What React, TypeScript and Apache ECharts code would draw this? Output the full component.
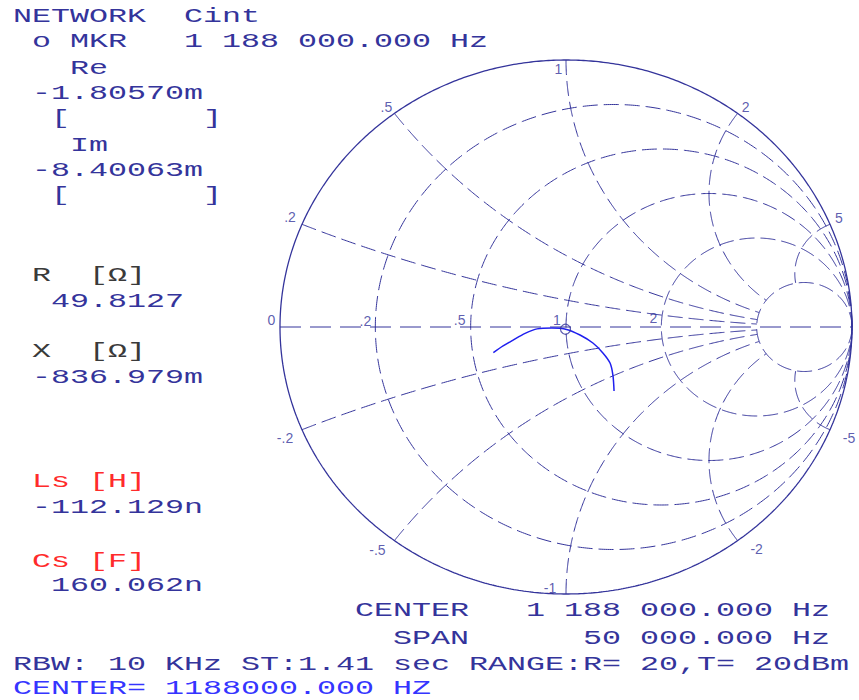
import React, { useEffect, useRef } from 'react';
import * as echarts from 'echarts';

const NAVY = '#34349b';
const TRACE_COLOR = '#1f1fef';
const RED = '#ff2b2b';
const DARK = '#3a3a3a';
const BRIGHT = '#3535ff';

// Smith-chart grid values
const resistanceValues = [0.2, 0.5, 1, 2, 5];
const reactanceValues = [0.2, 0.5, 1, 2, 5, -0.2, -0.5, -1, -2, -5];
const reactanceStopR = 5;

// Labels on the outer circle (reactance) and on the real axis (resistance)
const boundaryLabelTexts = ['.2', '.5', '1', '2', '5', '-.2', '-.5', '-1', '-2', '-5'];
const axisLabelValues = [0, 0.2, 0.5, 1, 2];
const axisLabelTexts = ['0', '.2', '.5', '1', '2'];

// Measured trace (reflection coefficient, Re / Im)
const traceRe = [-0.254, -0.22, -0.185, -0.143, -0.101, -0.049, 0.002, 0.049, 0.094, 0.129, 0.154, 0.164, 0.168];
const traceIm = [-0.096, -0.071, -0.049, -0.024, -0.007, -0.004, -0.009, -0.03, -0.06, -0.097, -0.135, -0.18, -0.24];

// Marker value
const markerRe = -0.0018057;
const markerIm = -0.00840063;

// Panel text (col in character cells, baseline in px)
const panelLines: [string, number, number, string][] = [
  ['NETWORK  Cint', 0, 23, NAVY],
  [' o MKR   1 188 000.000 Hz', 0, 48, NAVY],
  ['   Re', 0, 75, NAVY],
  [' -1.80570m', 0, 100, NAVY],
  ['  [       ]', 0, 125, NAVY],
  ['   Im', 0, 152, NAVY],
  [' -8.40063m', 0, 177, NAVY],
  ['  [       ]', 0, 202, NAVY],
  [' R  [Ω]', 0, 282, DARK],
  ['  49.8127', 0, 308, NAVY],
  [' X  [Ω]', 0, 358, DARK],
  [' -836.979m', 0, 384, NAVY],
  [' Ls [H]', 0, 488, RED],
  [' -112.129n', 0, 514, NAVY],
  [' Cs [F]', 0, 568, RED],
  ['  160.062n', 0, 592, NAVY],
  ['CENTER   1 188 000.000 Hz', 18, 617, NAVY],
  ['SPAN      50 000.000 Hz', 20, 645, NAVY],
  ['RBW: 10 KHz ST:1.41 sec RANGE:R= 20,T= 20dBm', 0, 671, NAVY],
  ['CENTER= 1188000.000 HZ', 0, 695, BRIGHT],
];

const boundaryOffsets = [[-12, -7], [-8, -6], [-7.5, 9], [8, -6], [9, -6.5], [-17, 8], [-17, 9], [-16, -6], [19, 8], [19, 8]];
const axisLabelOffsets = [[-8.5, -7], [-10, -6], [-11, -7], [-9, -7], [-8, -9]];

const CELL = 19;
const LEFT0 = 13;
const FS = 21;
const SX = CELL / (FS * 0.6);

function gamma(r: number, x: number): [number, number] {
  const dr = r + 1;
  const den = dr * dr + x * x;
  const nr = r - 1;
  return [(nr * dr + x * x) / den, (x * dr - nr * x) / den];
}

function resistanceCircle(r: number): [number, number][] {
  const c = r / (1 + r);
  const rho = 1 / (1 + r);
  const pts: [number, number][] = [];
  const n = 720;
  for (let i = 0; i <= n; i++) {
    const t = (i / n) * 2 * Math.PI;
    pts.push([c + rho * Math.cos(t), rho * Math.sin(t)]);
  }
  return pts;
}

function reactanceArc(x: number): [number, number][] {
  const pts: [number, number][] = [];
  const n = 400;
  for (let i = 0; i <= n; i++) {
    const t = i / n;
    pts.push(gamma(reactanceStopR * t * t, x));
  }
  return pts;
}

export default function App() {
  const ref = useRef<HTMLDivElement>(null);
  useEffect(() => {
    if (!ref.current) return;
    const chart = echarts.init(ref.current, undefined, { renderer: 'svg' });
    const series: any[] = [];
    const dashCurve = [15, 6];
    series.push({
      type: 'line', data: resistanceCircle(0), showSymbol: false, silent: true, clip: false,
      lineStyle: { color: NAVY, width: 1.3, type: 'solid' }, z: 3,
    });
    resistanceValues.forEach((r) => {
      series.push({
        type: 'line', data: resistanceCircle(r), showSymbol: false, silent: true, clip: false,
        lineStyle: { color: NAVY, width: 1, type: dashCurve }, z: 2,
      });
    });
    reactanceValues.forEach((x) => {
      series.push({
        type: 'line', data: reactanceArc(x), showSymbol: false, silent: true, clip: false,
        lineStyle: { color: NAVY, width: 1, type: dashCurve }, z: 2,
      });
    });
    series.push({
      type: 'line', data: [[-1, 0], [1, 0]], showSymbol: false, silent: true, clip: false,
      lineStyle: { color: NAVY, width: 1, type: [21, 9] }, z: 2,
    });
    series.push({
      type: 'line', data: traceRe.map((v, i) => [v, traceIm[i]]), showSymbol: false, silent: true, clip: false,
      smooth: 0.3,
      lineStyle: { color: TRACE_COLOR, width: 1.5 }, z: 5,
    });
    series.push({
      type: 'scatter', data: [[markerRe, markerIm]], symbol: 'circle', symbolSize: 10, silent: true,
      itemStyle: { color: 'rgba(0,0,0,0)', borderColor: NAVY, borderWidth: 1.2 }, z: 6,
    });
    const labelData: any[] = [];
    reactanceValues.forEach((x, i) => {
      const g = gamma(0, x);
      labelData.push({
        value: g, name: boundaryLabelTexts[i],
        label: { offset: boundaryOffsets[i] },
      });
    });
    axisLabelValues.forEach((r, i) => {
      const g = gamma(r, 0);
      labelData.push({
        value: g, name: axisLabelTexts[i],
        label: { offset: axisLabelOffsets[i] },
      });
    });
    series.push({
      type: 'scatter', data: labelData, symbolSize: 0.1, silent: true,
      itemStyle: { color: 'rgba(0,0,0,0)' },
      label: {
        show: true, position: 'inside', formatter: '{b}', color: NAVY,
        fontFamily: 'Liberation Sans', fontSize: 14,
      },
      z: 7,
    });

    const graphics = panelLines.map(([text, col, base, color]) => ({
      type: 'text',
      x: LEFT0 + col * CELL,
      y: base - 6,
      scaleX: SX,
      silent: true,
      style: {
        text, fill: color, font: `${FS}px "Liberation Mono"`,
        textAlign: 'left', textVerticalAlign: 'middle',
      },
    }));

    chart.setOption({
      animation: false,
      backgroundColor: '#ffffff',
      grid: { left: 280, top: 60, width: 572, height: 534 },
      xAxis: { type: 'value', min: -1, max: 1, show: false },
      yAxis: { type: 'value', min: -1, max: 1, show: false },
      series,
      graphic: graphics,
    });
    return () => chart.dispose();
  }, []);
  return (
    <div
      ref={ref}
      style={{ position: 'absolute', left: 0, top: 0, width: 859, height: 700, background: '#fff' }}
    />
  );
}
